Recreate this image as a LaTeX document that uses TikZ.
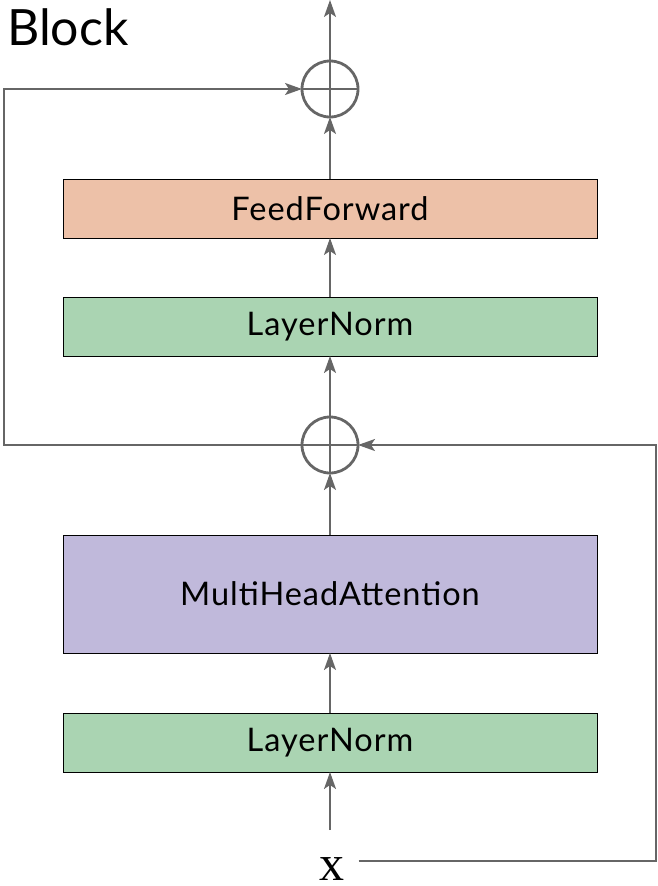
\documentclass[tikz,border=0pt]{standalone}
\usepackage{fontspec}
\setmainfont{Lato}
\newfontfamily\labelfont{Lato}[LetterSpace=3]
\newfontfamily\xfont{Liberation Serif}
\usetikzlibrary{arrows.meta, positioning, calc}
\definecolor{lineGray}{HTML}{666666}
\definecolor{ffFill}{HTML}{EDC1A8}
\definecolor{normFill}{HTML}{AAD4B2}
\definecolor{attnFill}{HTML}{C0B9DB}

\begin{document}
\begin{tikzpicture}[
    x=1pt, y=-1pt,
    node distance=60pt,
    font=\labelfont\fontsize{32.5}{38}\selectfont,
    layer/.style={
        rectangle, draw=black, line width=1pt, outer sep=0pt,
        minimum width=534pt, minimum height=59pt,
        inner sep=0pt, align=center
    },
    plus/.style={
        circle, draw=lineGray, line width=2.8pt, outer sep=0pt,
        minimum size=56pt, inner sep=0pt
    },
    plusline/.style={draw=lineGray, line width=2.6pt},
    arrow/.style={
        -{Stealth[length=17pt,width=12pt,inset=4pt]},
        draw=lineGray, line width=1.8pt
    }
]
    \useasboundingbox (0,0) rectangle (658,886);

    \node[layer, fill=normFill] (norm1) at (330,742.5) {LayerNorm};
    \node[layer, fill=attnFill, minimum height=118pt, above=60pt of norm1] (attn) {MultiHeadAttention};
    \node[plus, above=62pt of attn] (add1) {};
    \node[layer, fill=normFill, above=61pt of add1] (norm2) {LayerNorm};
    \node[layer, fill=ffFill, above=59pt of norm2] (ff) {FeedForward};
    \node[plus, above=62pt of ff] (add2) {};

    % the cross inside each adder
    \foreach \n in {add1, add2}
        \draw[plusline] (\n.north) -- (\n.south) (\n.west) -- (\n.east);

    \node[font=\xfont\fontsize{50}{60}\selectfont, inner xsep=14pt, inner ysep=0pt] (xin) at (332,869) {x};
    \node[anchor=base west, font=\fontsize{50}{60}\selectfont, inner sep=0pt] (title) at (7,45) {Block};

    \coordinate (xtop) at (330,830);
    \coordinate (out) at (330,0);
    \coordinate (skipR) at (656,445);
    \coordinate (skipL) at (4,445);

    \draw[arrow] (xtop) -- (norm1);
    \draw[arrow] (norm1) -- (attn);
    \draw[arrow] (attn) -- (add1);
    \draw[arrow] (add1) -- (norm2);
    \draw[arrow] (norm2) -- (ff);
    \draw[arrow] (ff) -- (add2);
    \draw[arrow] (add2) -- (out);

    \draw[arrow] ([yshift=8pt]xin.east) -| (skipR) -- (add1.east);
    \draw[arrow] (add1.west) -- (skipL) |- (add2.west);
\end{tikzpicture}
\end{document}
